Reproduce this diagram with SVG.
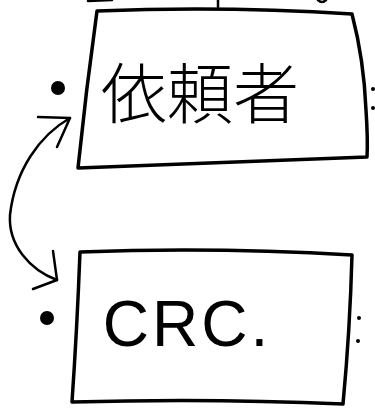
<svg xmlns="http://www.w3.org/2000/svg" width="375" height="413" viewBox="0 0 375 413">
<style>
.box{fill:#fff;stroke:#000;stroke-width:3.5;stroke-linejoin:round;stroke-linecap:round}
.ln{fill:none;stroke:#000;stroke-width:2.5;stroke-linecap:round;stroke-linejoin:round}
.lbl{fill:#000;text-anchor:middle}
</style>
<rect width="375" height="413" fill="#fff"/>
<g id="fragment" class="ln">
<path d="M88,1 L112,0"/>
<path d="M218,0 L218,7"/>
<path d="M318,0 Q322,4 326,0"/>
</g>
<g id="node-requester">
<path class="box" d="M97,11 Q225,6 352,14 Q364,60 366,110 Q368,140 367,157 Q220,163 78,168 Q86,90 97,11 Z"/>
<text class="lbl" x="200" y="118" font-family="'Noto Sans CJK JP', sans-serif" font-size="66" font-weight="300">依頼者</text>
<circle cx="58" cy="88" r="7"/>
<circle cx="373" cy="89" r="2"/>
<circle cx="373" cy="108" r="2"/>
<circle cx="80" cy="153" r="1"/>
</g>
<g id="node-crc">
<path class="box" d="M80,252 Q215,247 352,255 Q350,330 343,404 Q210,398 72,402 Q77,330 80,252 Z"/>
<text class="lbl" x="187" y="346" font-family="'Liberation Sans', sans-serif" font-size="64" letter-spacing="3">CRC.</text>
<circle cx="47" cy="318" r="7"/>
<circle cx="359" cy="318" r="2"/>
<circle cx="358" cy="341" r="2"/>
</g>
<g id="connectors" class="ln">
<path d="M70,118 C40,135 15,170 10,215 C8,245 30,270 57,280"/>
<path d="M38,117 L70,118 L57,147"/>
<path d="M53,251 L57,280 L33,289"/>
</g>
</svg>
